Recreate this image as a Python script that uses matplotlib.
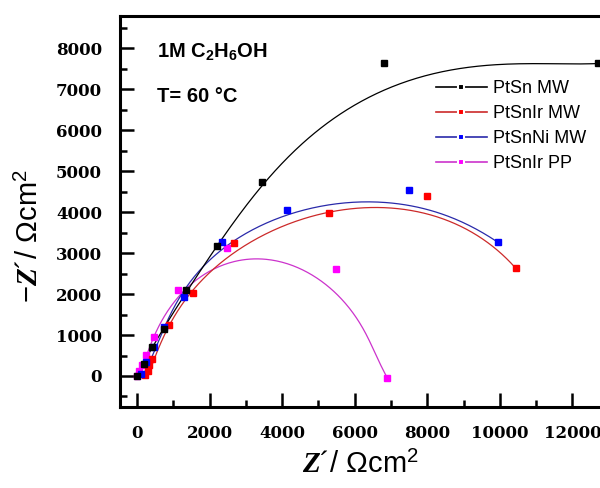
import numpy as np
import matplotlib
matplotlib.use("Agg")
import matplotlib.pyplot as plt
from matplotlib.lines import Line2D

plt.rcParams['mathtext.fontset'] = 'custom'
plt.rcParams['mathtext.rm'] = 'Liberation Sans'
plt.rcParams['mathtext.it'] = 'Liberation Serif:italic:bold'
plt.rcParams['mathtext.bf'] = 'Liberation Sans:bold'

# ---- data ----
labels = ["PtSn MW", "PtSnIr MW", "PtSnNi MW", "PtSnIr PP"]

ptsn_x = [0, 200, 420, 750, 1350, 2210, 3450, 6800, 12700]
ptsn_y = [0, 300, 700, 1150, 2100, 3180, 4750, 7650, 7650]
ptsnir_x = [230, 300, 340, 400, 880, 1550, 2680, 5300, 7980, 10440]
ptsnir_y = [20, 120, 280, 420, 1240, 2020, 3240, 3980, 4390, 2630]
ptsnni_x = [100, 250, 470, 750, 1300, 2350, 4140, 7490, 9940]
ptsnni_y = [50, 350, 710, 1200, 1930, 3270, 4050, 4540, 3270]
ptsnirpp_x = [0, 60, 150, 250, 470, 1130, 2490, 5470, 6900]
ptsnirpp_y = [0, 120, 280, 520, 950, 2100, 3120, 2610, -50]

# fitted curves
fit_ptsn_x = [0, 200, 450, 800, 1350, 2200, 3150, 4060, 5000, 5910, 6820, 7760, 8670, 9920, 11000, 12650]
fit_ptsn_y = [0, 330, 750, 1250, 2050, 3150, 4370, 5200, 6000, 6610, 6980, 7290, 7460, 7610, 7630, 7630]
fit_ptsnir_x = [300, 390, 880, 1550, 2680, 3370, 4120, 5300, 6380, 7570, 8590, 9500, 10440]
fit_ptsnir_y = [0, 320, 1240, 2020, 3180, 3320, 3630, 3980, 4120, 4120, 3760, 3320, 2630]
fit_ptsnni_x = [150, 470, 750, 1300, 2380, 4120, 5170, 6460, 7490, 8310, 9500, 9940]
fit_ptsnni_y = [0, 710, 1200, 1930, 3270, 3800, 4170, 4290, 4220, 3930, 3490, 3270]
fit_pp_x = [50, 250, 610, 1080, 1630, 2260, 2730, 3370, 4120, 4530, 5640, 6190, 6550, 6900]
fit_pp_y = [0, 560, 1200, 1850, 2290, 2710, 2850, 2850, 2760, 2590, 1850, 1200, 630, -50]

xticks = [0, 2000, 4000, 6000, 8000, 10000, 12000]
yticks = [0, 1000, 2000, 3000, 4000, 5000, 6000, 7000, 8000]

marker_colors = ["#000000", "#ff0000", "#0000ff", "#ff00ff"]
line_colors = ["#000000", "#cc2a2a", "#2a2aaa", "#cc33cc"]


def smooth_fit(xs, ys, deg=5, n=300):
    """Smooth parametric least-squares curve through the read fit points."""
    x = np.asarray(xs, float)
    y = np.asarray(ys, float)
    sx, sy = 12000.0, 8000.0
    d = np.hypot(np.diff(x) / sx, np.diff(y) / sy)
    t = np.concatenate([[0], np.cumsum(d)])
    t /= t[-1]
    w = np.ones_like(t)
    w[0] = w[-1] = 10
    px = np.polyfit(t, x, deg, w=w)
    py = np.polyfit(t, y, deg, w=w)
    tt = np.linspace(0, 1, n)
    return np.polyval(px, tt), np.polyval(py, tt)


fig = plt.figure(figsize=(6.0, 4.88), dpi=100)
ax = fig.add_axes([0.2, 0.166, 0.803, 0.801])

pts = [(ptsn_x, ptsn_y), (ptsnir_x, ptsnir_y), (ptsnni_x, ptsnni_y), (ptsnirpp_x, ptsnirpp_y)]
fits = [(fit_ptsn_x, fit_ptsn_y), (fit_ptsnir_x, fit_ptsnir_y), (fit_ptsnni_x, fit_ptsnni_y), (fit_pp_x, fit_pp_y)]
degs = [6, 5, 5, 6]

for i in [3, 1, 2, 0]:
    fx, fy = smooth_fit(*fits[i], deg=degs[i])
    ax.plot(fx, fy, color=line_colors[i], lw=0.9, zorder=2)
    ax.plot(pts[i][0], pts[i][1], ls='none', marker='s', ms=4.8, color=marker_colors[i],
            mec=marker_colors[i], zorder=3)

ax.set_xlim(-470, 12810)
ax.set_ylim(-757, 8790)
ax.set_xticks(xticks)
ax.set_yticks(yticks)
ax.set_xticks([1000, 3000, 5000, 7000, 9000, 11000], minor=True)
ax.set_yticks([-500, 500, 1500, 2500, 3500, 4500, 5500, 6500, 7500, 8500], minor=True)
ax.tick_params(which='major', direction='in', length=10, width=1.8, pad=13)
ax.tick_params(which='minor', direction='in', length=5, width=1.8)
ax.tick_params(top=False, right=False, which='both')
for s in ['left', 'bottom', 'top']:
    ax.spines[s].set_linewidth(2.2)
ax.spines['right'].set_visible(False)
for lab in ax.get_xticklabels() + ax.get_yticklabels():
    lab.set_fontfamily('DejaVu Serif')
    lab.set_fontweight('bold')
    lab.set_fontsize(12)

# axis labels
fig.text(360 / 600, 1 - 465 / 488, r"$Z$´/ Ωcm$^2$", ha='center', va='center',
         fontsize=21, family='Liberation Sans')
fig.text(30 / 600, 1 - 236 / 488, r"−$Z$´/ Ωcm$^2$", ha='center', va='center',
         fontsize=21, family='Liberation Sans', rotation=90)

# annotations
fig.text(157 / 600, 1 - 52 / 488, r"1M C$_\mathbf{2}$H$_\mathbf{6}$OH", ha='left', va='center',
         fontsize=14.5, fontweight='bold', family='Liberation Sans')
fig.text(157 / 600, 1 - 96 / 488, "T= 60 °C", ha='left', va='center',
         fontsize=14.5, fontweight='bold', family='Liberation Sans')

handles = [Line2D([], [], color=line_colors[i], lw=1.2, marker='s', ms=5,
                  mfc=marker_colors[i], mec='white', mew=1.5) for i in range(4)]
leg = fig.legend(handles, labels, loc='upper left', bbox_to_anchor=(436 / 600, 1 - 80 / 488),
                 frameon=False, borderpad=0, borderaxespad=0, handlelength=2.8,
                 handletextpad=0.35, labelspacing=0.45, numpoints=1,
                 prop={'family': 'Liberation Sans', 'size': 13})

fig.savefig("out.png", dpi=100)
